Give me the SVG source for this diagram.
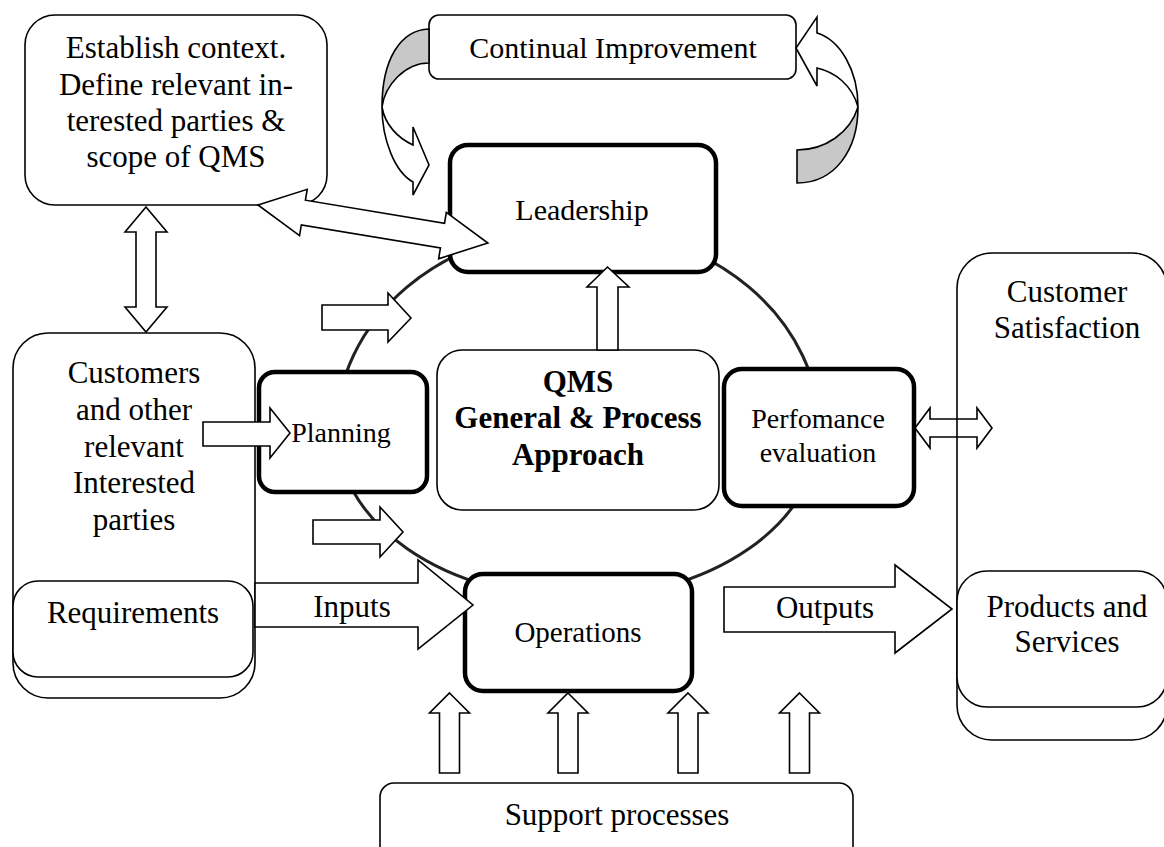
<svg xmlns="http://www.w3.org/2000/svg" width="1164" height="847" viewBox="0 0 1164 847">
<style>
.thin{fill:#fff;stroke:#000;stroke-width:1.6}
.thick{fill:#fff;stroke:#000;stroke-width:4.5}
.arr{fill:#fff;stroke:#000;stroke-width:1.6;stroke-linejoin:miter}
.gray{fill:#c8c8c8;stroke:#000;stroke-width:1.6}
text{font-family:"Liberation Serif","Times New Roman",serif;fill:#000;text-anchor:middle}
.t31{font-size:31px}
.t28{font-size:28px}
.b{font-size:31px;font-weight:bold}
</style>
<rect width="1164" height="847" fill="#fff"/>
<g id="cycle">
<path d="M336.5,430 A241.5,202.4 0 0 1 819.5,430 A241.5,168 0 0 1 336.5,430 Z" fill="none" stroke="#222" stroke-width="3"/>
</g>
<g id="context"><rect class="thin" x="25" y="15" width="302" height="190" rx="30"/>
<text class="t31" x="176" y="58">Establish context.</text>
<text class="t31" x="176" y="95">Define relevant in-</text>
<text class="t31" x="176" y="131">terested parties &amp;</text>
<text class="t31" x="176" y="167">scope of QMS</text></g>
<g id="continual"><rect class="thin" x="429" y="15" width="367" height="64" rx="10"/>
<text style="font-size:30px" x="613" y="58">Continual Improvement</text></g>
<g id="customers"><rect class="thin" x="13" y="333" width="242" height="365" rx="35"/>
<text class="t31" x="134" y="383">Customers</text>
<text class="t31" x="134" y="420">and other</text>
<text class="t31" x="134" y="457">relevant</text>
<text class="t31" x="134" y="493">Interested</text>
<text class="t31" x="134" y="530">parties</text></g>
<g id="requirements"><rect class="thin" x="13" y="581" width="240" height="96" rx="25"/>
<text class="t31" x="133" y="623">Requirements</text></g>
<g id="satisfaction"><rect class="thin" x="957" y="253" width="210" height="487" rx="35"/>
<text class="t31" x="1067" y="302">Customer</text>
<text class="t31" x="1067" y="338">Satisfaction</text></g>
<g id="products"><rect class="thin" x="957" y="571" width="210" height="136" rx="30"/>
<text class="t31" x="1067" y="617">Products and</text>
<text class="t31" x="1067" y="652">Services</text></g>
<g id="support"><rect class="thin" x="380" y="783" width="473" height="100" rx="14"/>
<text class="t31" x="617" y="825">Support processes</text></g>
<g id="leadership"><rect class="thick" x="450" y="145" width="266" height="127" rx="18"/>
<text style="font-size:30px" x="582" y="220">Leadership</text></g>
<g id="planning"><rect class="thick" x="259" y="372" width="168" height="120" rx="16"/>
<text class="t28" x="341" y="442">Planning</text></g>
<g id="qms"><rect class="thin" x="437" y="350" width="282" height="160" rx="25"/>
<text class="b" x="578" y="392">QMS</text>
<text class="b" x="578" y="428">General &amp; Process</text>
<text class="b" x="578" y="465">Approach</text></g>
<g id="performance"><rect class="thick" x="724" y="369" width="190" height="137" rx="18"/>
<text class="t28" x="818" y="428">Perfomance</text>
<text class="t28" x="818" y="462">evaluation</text></g>
<g id="operations"><rect class="thick" x="465" y="574" width="227" height="117" rx="18"/>
<text style="font-size:29px" x="578" y="642">Operations</text></g>
<g id="connectors">
<path class="gray" d="M429,29 C400,30 382,60 382,107 C385,85 405,63 429,63 Z"/>
<path class="arr" d="M382,107 C382,140 395,172 413,182 L413,195 L429,165 L413,127 L413,145 C398,138 385,125 382,107 Z"/>
<path class="arr" d="M858,107 C858,70 840,40 817,33 L817,17 L796,48 L817,86 L817,68 C835,72 852,85 858,107 Z"/>
<path class="gray" d="M858,107 C858,150 835,183 797,183 L797,150 C825,150 850,133 858,107 Z"/>
<polygon class="arr" transform="translate(258,205) rotate(9.4)" points="0,0 46,-23.5 46,-12.5 187,-12.5 187,-23.5 233,0 187,23.5 187,12.5 46,12.5 46,23.5"/>
<polygon class="arr" points="146,207 167,232 156,232 156,307 167,307 146,332 125,307 136,307 136,232 125,232"/>
<polygon class="arr" points="607.5,267 629,287 618,287 618,350 597,350 597,287 587,287"/>
<polygon class="arr" points="322,305 388,305 388,293 411,318 388,342 388,330 322,330"/>
<polygon class="arr" points="203,422 270,422 270,408 290,433 270,458 270,446 203,446"/>
<polygon class="arr" points="313,520 380,520 380,507 403,532 380,557 380,544 313,544"/>
<polygon class="arr" points="255,583 418,583 418,560 473,605 418,649 418,627 255,627"/>
<polygon class="arr" points="724,587 895,587 895,565 952,609 895,653 895,632 724,632"/>
<polygon fill="none" stroke="#000" stroke-width="1.6" points="915,428 930,408 930,419 977,419 977,408 992,428 977,448 977,437 930,437 930,448"/>
<polygon class="arr" points="449.5,693 469.5,713 459.5,713 459.5,773 439.5,773 439.5,713 429.5,713"/>
<polygon class="arr" points="568,693 588,713 578,713 578,773 558,773 558,713 548,713"/>
<polygon class="arr" points="688,693 708,713 698,713 698,773 678,773 678,713 668,713"/>
<polygon class="arr" points="799.5,693 819.5,713 809.5,713 809.5,773 789.5,773 789.5,713 779.5,713"/>
<text class="t31" x="352" y="617">Inputs</text>
<text class="t31" x="825" y="618">Outputs</text>
</g>
</svg>
